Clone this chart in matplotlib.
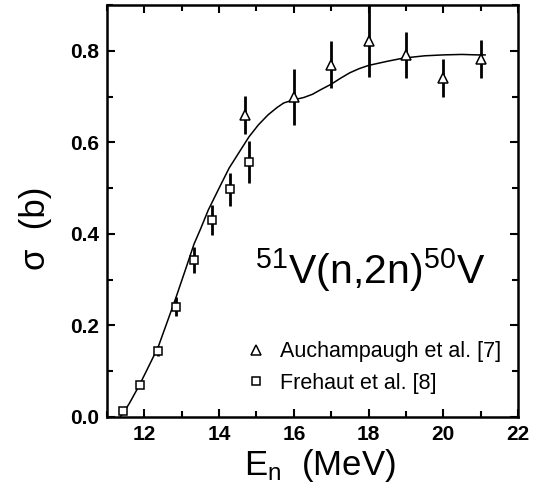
import matplotlib
matplotlib.use("Agg")
import matplotlib.pyplot as plt
from matplotlib.lines import Line2D
from matplotlib.ticker import MultipleLocator

plt.rcParams["font.family"] = ["Liberation Sans", "DejaVu Sans"]
plt.rcParams["mathtext.fontset"] = "custom"
plt.rcParams["mathtext.rm"] = "Liberation Sans"
plt.rcParams["mathtext.it"] = "Liberation Sans:italic"
plt.rcParams["mathtext.bf"] = "Liberation Sans:bold"

# Auchampaugh et al. [7]
auch_E = [14.7, 16.0, 17.0, 18.0, 19.0, 20.0, 21.0]
auch_sigma = [0.660, 0.699, 0.770, 0.822, 0.791, 0.741, 0.782]
auch_err = [0.042, 0.062, 0.051, 0.080, 0.051, 0.041, 0.041]

# Frehaut et al. [8]
freh_E = [11.44, 11.88, 12.37, 12.86, 13.34, 13.80, 14.30, 14.80]
freh_sigma = [0.013, 0.070, 0.144, 0.241, 0.343, 0.431, 0.498, 0.557]
freh_err = [0.004, 0.007, 0.011, 0.021, 0.028, 0.033, 0.036, 0.046]

# evaluated excitation function
curve_E = [11.35, 11.44, 11.60, 11.87, 12.10, 12.37, 12.60, 12.85, 13.10,
           13.33, 13.50, 13.71, 14.00, 14.27, 14.55, 14.80, 15.05, 15.31,
           15.55, 15.73, 16.00, 16.27, 16.50, 16.72, 17.00, 17.25, 17.50,
           17.75, 18.00, 18.50, 18.93, 19.50, 20.00, 20.50, 20.90, 21.12]
curve_sigma = [0.000, 0.009, 0.030, 0.070, 0.108, 0.153, 0.205, 0.262, 0.322,
               0.378, 0.410, 0.452, 0.500, 0.544, 0.580, 0.612, 0.638, 0.660,
               0.676, 0.686, 0.693, 0.698, 0.705, 0.715, 0.727, 0.740, 0.752,
               0.761, 0.768, 0.777, 0.784, 0.789, 0.791, 0.792, 0.791, 0.791]

fig = plt.figure(figsize=(5.4, 4.95), dpi=100)
ax = fig.add_axes([107 / 540, 78 / 495, 411 / 540, 412 / 495])

ax.plot(curve_E, curve_sigma, color="black", lw=1.1, zorder=2)
ax.errorbar(auch_E, auch_sigma, yerr=auch_err, fmt="^", ms=7.5,
            mfc="white", mec="black", mew=1.1, ecolor="black",
            elinewidth=2.0, capsize=0, zorder=3)
ax.errorbar(freh_E, freh_sigma, yerr=freh_err, fmt="s", ms=6,
            mfc="white", mec="black", mew=1.1, ecolor="black",
            elinewidth=2.0, capsize=0, zorder=3)

ax.set_xlim(11, 22)
ax.set_ylim(0, 0.9)
ax.xaxis.set_major_locator(MultipleLocator(2))
ax.xaxis.set_minor_locator(MultipleLocator(1))
ax.yaxis.set_major_locator(MultipleLocator(0.2))
ax.yaxis.set_minor_locator(MultipleLocator(0.1))
ax.yaxis.set_major_formatter(plt.FuncFormatter(lambda v, p: f"{v:.1f}"))

ax.tick_params(which="both", direction="in", top=True, right=True,
               width=1.5, color="black")
ax.tick_params(which="major", length=6, labelsize=15, pad=6)
ax.tick_params(which="minor", length=4)
for lab in ax.get_xticklabels() + ax.get_yticklabels():
    lab.set_fontweight("bold")
for s in ax.spines.values():
    s.set_linewidth(1.8)

fig.text(320 / 540, 1 - 466 / 495, r"E$_{\mathrm{n}}$  (MeV)", fontsize=25,
         ha="center", va="center")
fig.text(35 / 540, 1 - 228 / 495, "σ  (b)", fontsize=25, rotation=90,
         ha="center", va="center")

ax.text(0.36, 0.325, r"$^{51}$V(n,2n)$^{50}$V", transform=ax.transAxes,
        fontsize=29.5, ha="left", va="baseline")

handles = [
    Line2D([], [], ls="none", marker="^", ms=6.5, mfc="white", mec="black", mew=1.1),
    Line2D([], [], ls="none", marker="s", ms=5.5, mfc="white", mec="black", mew=1.1),
]
ax.legend(handles, ["Auchampaugh et al. [7]", "Frehaut et al. [8]"],
          loc="lower left", bbox_to_anchor=(0.31, 0.03), frameon=False,
          fontsize=15.5, handlelength=1.0, handletextpad=0.6,
          labelspacing=0.5, borderpad=0.0)

fig.savefig("out.png", dpi=100)
